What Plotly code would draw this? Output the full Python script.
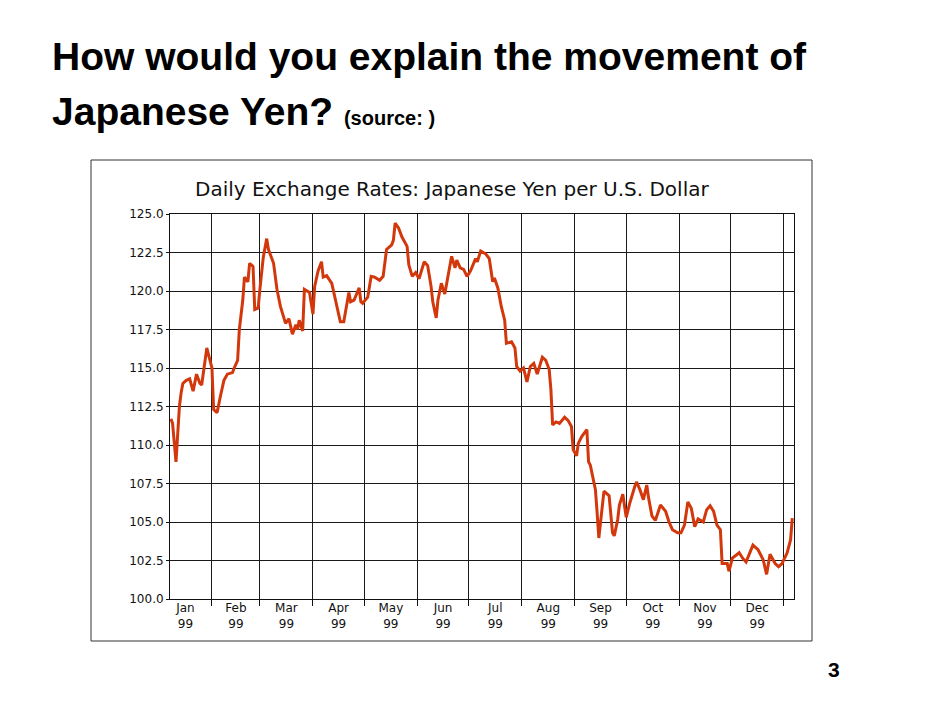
import plotly.graph_objects as go

# Daily exchange rates, Japanese Yen per U.S. Dollar
dates = [
    "1999-01-08", "1999-01-09", "1999-01-11", "1999-01-13", "1999-01-14", "1999-01-15",
    "1999-01-17", "1999-01-19", "1999-01-21", "1999-01-23", "1999-01-25", "1999-01-26",
    "1999-01-29", "1999-01-31",
    "1999-02-01", "1999-02-02", "1999-02-04", "1999-02-06", "1999-02-08", "1999-02-10",
    "1999-02-13", "1999-02-14", "1999-02-16", "1999-02-17", "1999-02-19", "1999-02-20",
    "1999-02-22", "1999-02-23", "1999-02-25", "1999-02-26", "1999-02-28",
    "1999-03-01", "1999-03-03", "1999-03-05", "1999-03-06", "1999-03-09", "1999-03-11",
    "1999-03-13", "1999-03-16", "1999-03-18", "1999-03-20", "1999-03-22", "1999-03-23",
    "1999-03-24", "1999-03-26", "1999-03-27", "1999-03-29", "1999-03-30",
    "1999-04-01", "1999-04-02", "1999-04-04", "1999-04-06", "1999-04-07", "1999-04-09",
    "1999-04-12", "1999-04-13", "1999-04-15", "1999-04-17", "1999-04-19", "1999-04-21",
    "1999-04-22", "1999-04-23", "1999-04-25", "1999-04-28", "1999-04-29", "1999-04-30",
    "1999-05-03", "1999-05-05", "1999-05-07", "1999-05-10", "1999-05-12", "1999-05-14",
    "1999-05-17", "1999-05-18", "1999-05-19", "1999-05-21", "1999-05-23", "1999-05-26",
    "1999-05-27", "1999-05-29", "1999-05-31",
    "1999-06-02", "1999-06-05", "1999-06-07", "1999-06-09", "1999-06-10", "1999-06-12",
    "1999-06-13", "1999-06-15", "1999-06-17", "1999-06-19", "1999-06-21", "1999-06-23",
    "1999-06-24", "1999-06-26", "1999-06-28", "1999-06-30",
    "1999-07-02", "1999-07-05", "1999-07-06", "1999-07-08", "1999-07-11", "1999-07-13",
    "1999-07-15", "1999-07-16", "1999-07-18", "1999-07-20", "1999-07-22", "1999-07-23",
    "1999-07-26", "1999-07-28", "1999-07-29", "1999-07-31",
    "1999-08-02", "1999-08-04", "1999-08-06", "1999-08-08", "1999-08-10", "1999-08-13",
    "1999-08-15", "1999-08-17", "1999-08-18", "1999-08-19", "1999-08-21", "1999-08-23",
    "1999-08-26", "1999-08-28", "1999-08-30", "1999-08-31",
    "1999-09-02", "1999-09-03", "1999-09-05", "1999-09-08", "1999-09-09", "1999-09-10",
    "1999-09-11", "1999-09-13", "1999-09-14", "1999-09-15", "1999-09-17", "1999-09-18",
    "1999-09-21", "1999-09-23", "1999-09-24", "1999-09-26", "1999-09-27", "1999-09-29",
    "1999-10-01", "1999-10-03", "1999-10-06", "1999-10-07", "1999-10-09", "1999-10-11",
    "1999-10-13", "1999-10-14", "1999-10-16", "1999-10-18", "1999-10-21", "1999-10-24",
    "1999-10-26", "1999-10-28", "1999-10-31",
    "1999-11-02", "1999-11-04", "1999-11-06", "1999-11-08", "1999-11-10", "1999-11-12",
    "1999-11-15", "1999-11-17", "1999-11-19", "1999-11-21", "1999-11-23", "1999-11-25",
    "1999-11-26", "1999-11-29", "1999-11-30",
    "1999-12-02", "1999-12-06", "1999-12-08", "1999-12-10", "1999-12-14", "1999-12-17",
    "1999-12-20", "1999-12-22", "1999-12-24", "1999-12-27", "1999-12-29", "1999-12-31",
    "2000-01-03", "2000-01-05", "2000-01-06",
]

yen_per_usd = [
    111.7, 111.4, 108.9, 112.5, 113.4, 114.0,
    114.2, 114.3, 113.5, 114.6, 114.0, 113.9,
    116.3, 115.5,
    115.0, 112.3, 112.1, 113.2, 114.2, 114.6,
    114.7, 115.0, 115.5, 117.5, 119.4, 120.9,
    120.6, 121.8, 121.6, 118.8, 118.9,
    120.1, 122.2, 123.4, 122.7, 121.8, 120.1,
    119.0, 117.9, 118.2, 117.2, 117.8, 117.5,
    118.1, 117.4, 120.1, 120.0, 119.9,
    118.5, 120.3, 121.3, 121.9, 120.9, 121.0,
    120.5, 120.0, 119.0, 118.0, 118.0, 119.4,
    119.9, 119.3, 119.4, 120.2, 119.3, 119.2,
    119.6, 120.95, 120.9, 120.7, 120.95, 122.7,
    123.0, 123.3, 124.4, 124.1, 123.5, 122.9,
    121.7, 120.95, 121.2,
    120.8, 121.9, 121.65, 120.3, 119.3, 118.25,
    119.4, 120.5, 119.8, 120.95, 122.25, 121.5,
    122.0, 121.5, 121.4, 120.95,
    121.3, 122.1, 121.9, 122.6, 122.4, 122.1,
    120.6, 120.85, 120.2, 119.0, 118.1, 116.6,
    116.7, 116.3, 115.1, 114.8,
    115.0, 114.1, 115.1, 115.3, 114.6, 115.7,
    115.5, 114.9, 113.6, 111.3, 111.5, 111.4,
    111.8, 111.6, 111.2, 109.7,
    109.3, 110.1, 110.55, 111.0, 108.9, 108.7,
    108.2, 107.1, 105.6, 103.96, 106.0, 107.0,
    106.7, 104.3, 104.1, 105.15, 106.1, 106.8,
    105.3, 106.2, 107.3, 107.6, 107.1, 106.45,
    107.4, 106.6, 105.4, 105.1, 106.1, 105.7,
    105.0, 104.5, 104.3,
    104.3, 104.8, 106.3, 105.9, 104.7, 105.2,
    105.0, 105.8, 106.05, 105.7, 104.8, 104.5,
    102.3, 102.3, 101.8,
    102.65, 103.0, 102.65, 102.4, 103.5, 103.2,
    102.55, 101.6, 102.9, 102.3, 102.1, 102.3,
    103.0, 103.85, 105.25,
]

y_ticks = [100.0, 102.5, 105.0, 107.5, 110.0, 112.5, 115.0, 117.5, 120.0, 122.5, 125.0]

slide_title_1 = "How would you explain the movement of"
slide_title_2 = "Japanese Yen?"
source_note = "(source: )"
chart_title = "Daily Exchange Rates: Japanese Yen per U.S. Dollar"
page_number = "3"

chart_font = "DejaVu Sans, Liberation Sans, Arial, sans-serif"
slide_font = "Liberation Sans, Arial, sans-serif"

fig = go.Figure()
fig.add_trace(go.Scatter(
    x=dates, y=yen_per_usd, mode="lines",
    line=dict(color="#d2380c", width=3),
    hoverinfo="x+y", showlegend=False,
))

# plot area in pixels: x 170..794, y 214..599
L, R, T, B = 170, 794, 214, 599
W, H = R - L, B - T
def px(x):
    return (x - L) / W
def py(y):
    return (B - y) / H

fig.update_layout(
    width=950, height=713,
    margin=dict(l=L, r=950 - R, t=T, b=713 - B, pad=0),
    paper_bgcolor="white", plot_bgcolor="white",
    xaxis=dict(
        type="date",
        range=["1999-01-07 12:00", "2000-01-07"],
        tick0="1999-01-01", dtick="M1",
        ticklabelmode="period",
        tickformat="%b<br>%y",
        ticks="outside", ticklen=6, tickwidth=1, tickcolor="#111",
        ticklabelstandoff=-8,
        showgrid=True, gridcolor="#1a1a1a", gridwidth=1,
        showline=True, linecolor="#111", linewidth=1, mirror=True,
        zeroline=False,
        tickfont=dict(family=chart_font, size=12, color="#111"),
    ),
    yaxis=dict(
        range=[100, 125],
        tickmode="array", tickvals=y_ticks,
        tickformat=".1f",
        ticks="outside", ticklen=3, tickwidth=1, tickcolor="#111",
        showgrid=True, gridcolor="#1a1a1a", gridwidth=1,
        showline=True, linecolor="#111", linewidth=1, mirror=True,
        zeroline=False,
        tickfont=dict(family=chart_font, size=12, color="#111"),
    ),
    shapes=[dict(
        type="rect", xref="paper", yref="paper",
        x0=px(91), x1=px(812), y0=py(641), y1=py(160),
        line=dict(color="#333", width=1), fillcolor="rgba(0,0,0,0)", layer="below",
    )],
    annotations=[
        dict(text=slide_title_1, xref="paper", yref="paper", x=px(50), y=py(56),
             xanchor="left", yanchor="middle", showarrow=False,
             font=dict(family=slide_font, size=39, color="black", weight="bold")),
        dict(text=slide_title_2 + " <span style='font-size:20px'>" + source_note + "</span>",
             xref="paper", yref="paper", x=px(50), y=py(112),
             xanchor="left", yanchor="middle", showarrow=False,
             font=dict(family=slide_font, size=39, color="black", weight="bold")),
        dict(text=chart_title, xref="paper", yref="paper", x=px(452), y=py(189),
             xanchor="center", yanchor="middle", showarrow=False,
             font=dict(family=chart_font, size=20, color="#111")),
        dict(text=page_number, xref="paper", yref="paper", x=px(834), y=py(669),
             xanchor="center", yanchor="middle", showarrow=False,
             font=dict(family=slide_font, size=21, color="black", weight="bold")),
    ],
)

fig.write_html("out.html")
